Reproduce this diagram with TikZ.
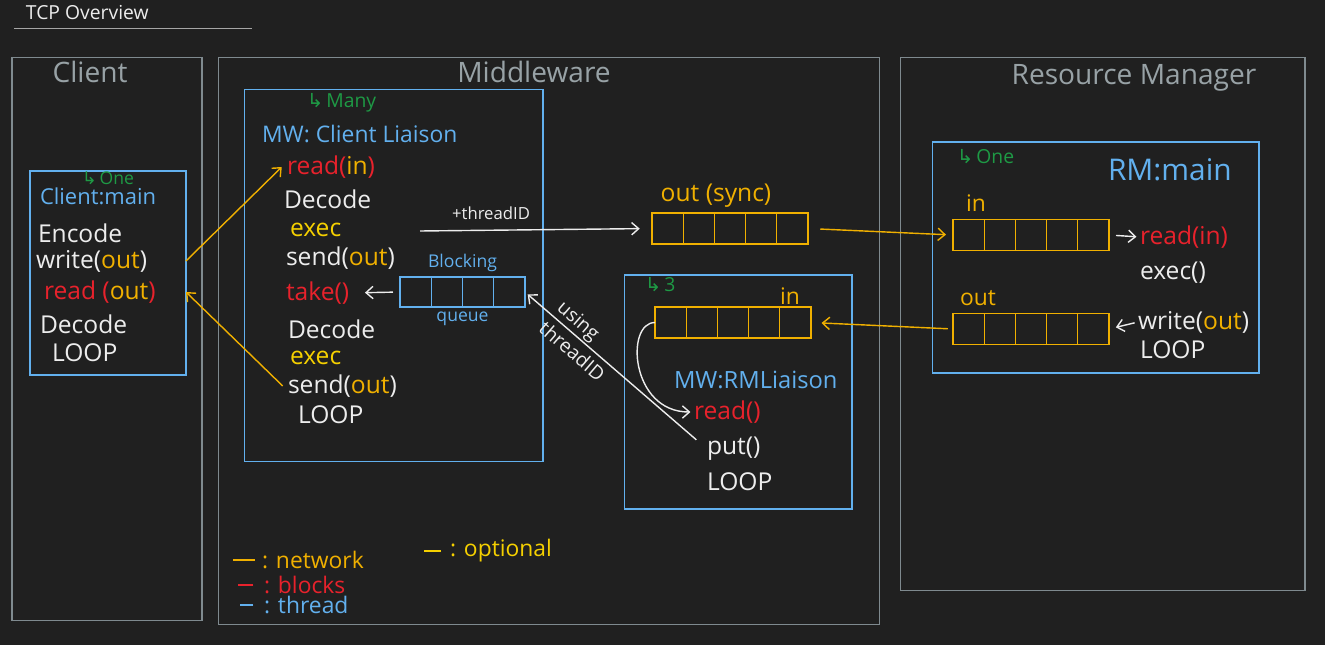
\documentclass[tikz,border=0pt]{standalone}
\usepackage{fontspec}
\setmainfont{Open Sans}
\newfontfamily\arrowfont{DejaVu Sans}
\usetikzlibrary{positioning,calc,arrows.meta}

\definecolor{bgdark}{HTML}{202020}
\definecolor{panelgray}{HTML}{7F8A8F}
\definecolor{titlegray}{HTML}{98A2A6}
\definecolor{thblue}{HTML}{62B0EE}
\definecolor{netyel}{HTML}{F0B000}
\definecolor{optyel}{HTML}{F5D000}
\definecolor{blkred}{HTML}{E8222C}
\definecolor{hookgreen}{HTML}{1E9A45}
\definecolor{hwhite}{HTML}{EDEDED}

\newcommand{\netword}[1]{\textcolor{netyel}{#1}}

\begin{document}
\begin{tikzpicture}[x=0.02cm, y=-0.02cm, >={Straight Barb[length=4pt,width=7pt]}]
        \tikzstyle{every node}=[inner sep=0pt, outer sep=0pt, anchor=west]
        \tikzstyle{panel}=[draw=panelgray, line width=0.6pt, anchor=center]
        \tikzstyle{thread}=[draw=thblue, line width=0.6pt, anchor=center]
        \tikzstyle{queue}=[draw=netyel, line width=0.7pt, minimum width=3.12cm, minimum height=0.62cm, anchor=center]
        \tikzstyle{bqueue}=[draw=thblue, line width=0.7pt, minimum width=2.5cm, minimum height=0.6cm, anchor=center]
        \tikzstyle{ptitle}=[text=titlegray, font=\fontsize{16}{18}\selectfont, anchor=center]
        \tikzstyle{hand}=[text=hwhite, font=\fontsize{14}{16}\selectfont]
        \tikzstyle{tname}=[text=thblue, font=\fontsize{13}{15}\selectfont]
        \tikzstyle{count}=[text=hookgreen, font=\fontsize{10}{12}\selectfont]
        \tikzstyle{qlabel}=[text=netyel, font=\fontsize{13}{15}\selectfont, anchor=center]
        \tikzstyle{legend}=[font=\fontsize{13}{15}\selectfont]
        \tikzstyle{net}=[->, netyel, line width=0.8pt]
        \tikzstyle{wire}=[->, hwhite, line width=0.8pt]

        % background
        \fill[bgdark] (0,0) rectangle (1325,645);
        \useasboundingbox (0,0) rectangle (1325,645);
        \node[text=hwhite, font=\fontsize{11}{13}\selectfont] (title) at (26,13) {TCP Overview};
        \draw[gray!70, line width=0.5pt] (14,28) -- (252,28);

        % panels
        \node[panel, minimum width=3.8cm, minimum height=11.28cm] (client) at (107,339) {};
        \node[panel, minimum width=13.24cm, minimum height=11.36cm] (mw) at (549,341) {};
        \node[panel, minimum width=8.1cm, minimum height=10.68cm] (rm) at (1102.5,324) {};
        \node[ptitle] (clienttitle) at (90,72) {Client};
        \node[ptitle] (mwtitle) at (534,72) {Middleware};
        \node[ptitle] (rmtitle) at (1134,78) {Resource Manager};

        % client main
        \node[thread, minimum width=3.12cm, minimum height=4.08cm] (clmain) at (108,273) {};
        \node[count] (clone) at (82,178) {\arrowfont↳\,\normalfont One};
        \node[tname, font=\fontsize{12.5}{15}\selectfont] (clname) at (40,196) {Client:main};
        \node[hand] (clenc) at (38,233) {Encode};
        \node[hand] (clwrite) at (36,261) {write(\netword{out})};
        \node[hand, text=blkred] (clread) at (44,292) {read (\netword{out})};
        \node[hand] (cldec) at (40,324) {Decode};
        \node[hand] (clloop) at (52,353) {LOOP};

        % middleware client liaison
        \node[thread, minimum width=5.98cm, minimum height=7.46cm] (mwcl) at (393.5,275.5) {};
        \node[count, font=\fontsize{11}{13}\selectfont] (mwmany) at (307,103) {\arrowfont↳\,\normalfont Many};
        \node[tname] (mwclname) at (262,134) {MW: Client Liaison};
        \node[hand, text=blkred] (mwread) at (287,167) {read(\netword{in})};
        \node[hand] (mwdec1) at (284,199) {Decode};
        \node[hand, text=optyel] (mwexec1) at (290,230) {exec};
        \node[hand] (mwsend1) at (286,258) {send(\netword{out})};
        \node[hand, text=blkred] (mwtake) at (286,293) {take()};
        \node[hand] (mwdec2) at (288,329) {Decode};
        \node[hand, text=optyel] (mwexec2) at (290,358) {exec};
        \node[hand] (mwsend2) at (288,386) {send(\netword{out})};
        \node[hand] (mwloop) at (298,415) {LOOP};

        % blocking queue
        \node[bqueue] (bq) at (462.5,292) {};
        \foreach \i in {1,2,3}
            \draw[thblue, line width=0.7pt] ($(bq.south west)!\i/4!(bq.south east)$) -- ($(bq.north west)!\i/4!(bq.north east)$);
        \node[text=thblue, font=\fontsize{10}{12}\selectfont, above=3pt of bq] (bqtop) {Blocking};
        \node[text=thblue, font=\fontsize{10}{12}\selectfont, below=3pt of bq] (bqbot) {queue};

        % out (sync) queue
        \node[queue] (qout) at (730,228.5) {};
        \node[qlabel, font=\fontsize{14}{16}\selectfont] (qoutlabel) at (716,196) {out (sync)};
        \node[text=hwhite, font=\fontsize{9.5}{11}\selectfont, anchor=center] (tid) at (491,213) {+threadID};
        \coordinate (tidstart) at (420,231);

        % middleware rm liaison
        \node[thread, minimum width=4.56cm, minimum height=4.68cm] (mwrm) at (738,392) {};
        \node[count, font=\fontsize{11}{13}\selectfont] (mwthree) at (645,285) {\arrowfont↳\,\normalfont 3};
        \node[queue] (mwin) at (733,322.5) {};
        \node[qlabel] (mwinlabel) at (790,296) {in};
        \node[tname, font=\fontsize{13.5}{15}\selectfont] (mwrmname) at (674,380) {MW:RMLiaison};
        \node[hand, text=blkred] (rlread) at (694,412) {read()};
        \node[hand] (rlput) at (707,449) {put()};
        \node[hand] (rlloop) at (707,482) {LOOP};

        % resource manager main
        \node[thread, minimum width=6.54cm, minimum height=4.62cm] (rmmain) at (1095.5,257.5) {};
        \node[count, font=\fontsize{11}{13}\selectfont] (rmone) at (957,157) {\arrowfont↳\,\normalfont One};
        \node[tname, font=\fontsize{17}{19}\selectfont] (rmname) at (1108,170) {RM:main};
        \node[queue] (rmin) at (1031,235) {};
        \node[qlabel] (rminlabel) at (976,203) {in};
        \node[queue] (rmout) at (1031,329) {};
        \node[qlabel] (rmoutlabel) at (978,298) {out};
        \node[hand, text=blkred] (rmread) at (1140,237) {read(in)};
        \node[hand] (rmexec) at (1140,273) {exec()};
        \node[hand] (rmwrite) at (1138,322) {write(\netword{out})};
        \node[hand] (rmloop) at (1140,350) {LOOP};

        % queue cells
        \foreach \q in {qout,mwin,rmin,rmout}
            \foreach \i in {1,...,4}
                \draw[netyel, line width=0.7pt] ($(\q.south west)!\i/5!(\q.south east)$) -- ($(\q.north west)!\i/5!(\q.north east)$);

        % connectors
        \draw[net] (clmain.east |- clwrite) -- ([xshift=-3pt]mwread.west);
        \draw[net] ([xshift=-3pt]mwsend2.west) -- (clmain.east |- clread);
        \draw[wire] (tidstart) -- (qout.west) [shorten >=7pt];
        \draw[net, shorten <=7pt, shorten >=4pt] (qout.east) -- (rmin.west);
        \draw[net, shorten <=3pt, shorten >=6pt] (rmout.west) -- (mwin.east);
        \draw[wire, shorten <=4pt, shorten >=2pt] (rmin.east) -- (rmread.west);
        \draw[wire, shorten <=2pt, shorten >=4pt] (rmwrite.west) -- (rmout.east);
        \draw[wire, shorten <=4pt, shorten >=9pt] (bq.west) -- (mwtake.east);
        \draw[wire, shorten <=8pt, shorten >=2pt] (rlput.west) -- (bq.east)
            node[pos=0.69, sloped, anchor=center, align=left, text=hwhite, font=\fontsize{11}{12}\selectfont] (usingtid) {using\\[4pt]threadID};
        \draw[wire] (mwin.west) .. controls +(-30,0) and +(-60,0) .. ([xshift=-2pt]rlread.west);

        % legend
        \node[legend, text=netyel] (lgnet) at (262,560) {: network};
        \node[legend, text=blkred] (lgblk) at (264,585) {: blocks};
        \node[legend, text=thblue] (lgthr) at (264,605) {: thread};
        \node[legend, text=optyel] (lgopt) at (450,551) {: optional};
        \draw[netyel, line width=1pt] ([xshift=-4pt]lgnet.west) -- ++(-22,0);
        \draw[blkred, line width=1pt] ([xshift=-6pt]lgblk.west) -- ++(-15,0);
        \draw[thblue, line width=1pt] ([xshift=-6pt]lgthr.west) -- ++(-13,0);
        \draw[optyel, line width=1pt] ([xshift=-5pt]lgopt.west) -- ++(-17,0);
\end{tikzpicture}
\end{document}
